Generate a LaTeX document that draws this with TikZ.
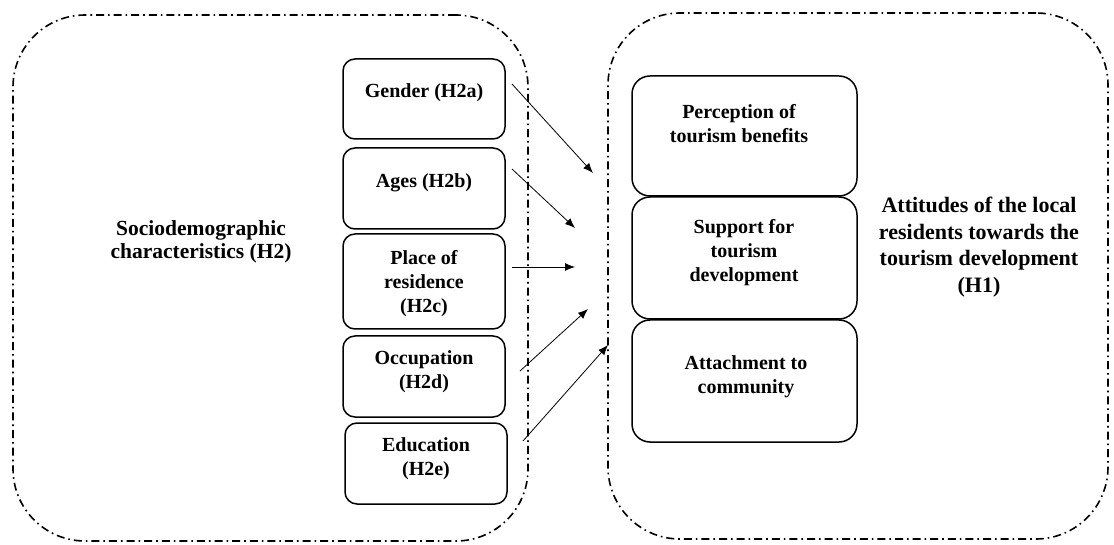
\documentclass[tikz,border=0pt]{standalone}
\usepackage{fontspec}
\setmainfont{Liberation Serif}
\usetikzlibrary{arrows.meta}
\begin{document}
\begin{tikzpicture}[x=1pt,y=-1pt,
  outerbox/.style={draw, line width=1.6pt, dash pattern=on 8pt off 4pt on 1.6pt off 4pt, rounded corners=72pt, inner sep=0pt},
  sbox/.style={draw, line width=1.5pt, rounded corners=12pt, minimum width=162pt, inner sep=0pt},
  rbox/.style={draw, line width=1.5pt, rounded corners=18pt, minimum width=225pt, inner sep=0pt},
  lbl/.style={font=\fontsize{20}{24}\selectfont\bfseries, align=center, inner sep=0pt},
  biglbl/.style={font=\fontsize{21.5}{23}\selectfont\bfseries, align=center, inner sep=0pt},
  rlbl/.style={font=\fontsize{22}{26.7}\selectfont\bfseries, align=center, inner sep=0pt},
  arr/.style={-{Latex[length=10pt,width=8pt]}, line width=0.8pt}]
\useasboundingbox (0,0) rectangle (1114,545);
\fill[white] (0,0) rectangle (1114,545);
% outer groups
\node[outerbox, minimum width=515pt, minimum height=526pt] (L) at (270.5,278) {};
\node[outerbox, minimum width=500pt, minimum height=526pt] (R) at (858,276) {};
% left boxes
\node[sbox, minimum height=80pt] (g) at (424,99) {};
\node[sbox, minimum height=81pt] (a) at (424,188.5) {};
\node[sbox, minimum height=95pt] (p) at (424,281.5) {};
\node[sbox, minimum height=81pt] (o) at (424,376.5) {};
\node[sbox, minimum height=81pt] (e) at (426,463.5) {};
\node[lbl] (gt) at (424,93) {Gender (H2a)};
\node[lbl] (at) at (424,183) {Ages (H2b)};
\node[lbl] (pt) at (424,284) {Place of\\residence\\(H2c)};
\node[lbl] (ot) at (424,372) {Occupation\\(H2d)};
\node[lbl] (et) at (426,459) {Education\\(H2e)};
% right boxes
\node[rbox, minimum height=120pt] (pb) at (744.5,136) {};
\node[rbox, minimum height=122pt] (sb) at (744.5,258) {};
\node[rbox, minimum height=122pt] (cb) at (744.5,381) {};
\node[lbl] (pbt) at (739,123.5) {Perception of\\tourism benefits};
\node[lbl] (sbt) at (744,253) {Support for\\tourism\\development};
\node[lbl] (cbt) at (746,376.5) {Attachment to\\community};
% group labels
\node[biglbl] (lt) at (201,241.5) {Sociodemographic\\characteristics (H2)};
\node[rlbl] (rt) at (979,247) {Attitudes of the local\\residents towards the\\tourism development\\(H1)};
% arrows
\coordinate (a1s) at (512,84);  \coordinate (a1e) at (593,173);
\coordinate (a2s) at (512,169); \coordinate (a2e) at (575,228);
\coordinate (a3s) at (512,267); \coordinate (a3e) at (575,267);
\coordinate (a4s) at (520,371); \coordinate (a4e) at (588,309);
\coordinate (a5s) at (523,441); \coordinate (a5e) at (608,345);
\draw[arr] (a1s) -- (a1e);
\draw[arr] (a2s) -- (a2e);
\draw[arr] (a3s) -- (a3e);
\draw[arr] (a4s) -- (a4e);
\draw[arr] (a5s) -- (a5e);
\end{tikzpicture}
\end{document}
